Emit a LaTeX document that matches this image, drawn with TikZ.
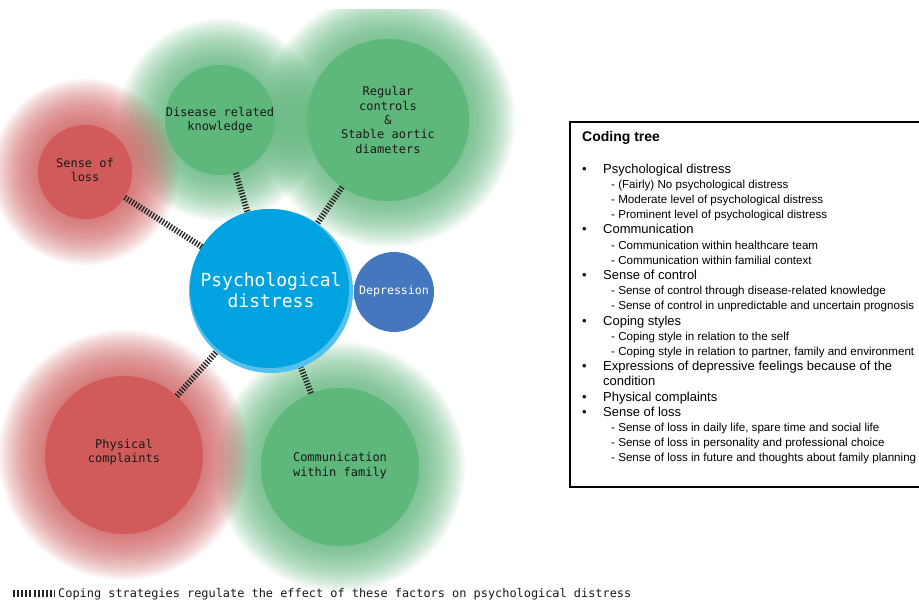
\documentclass[tikz,border=0pt]{standalone}
\usepackage{fontspec}
\setmainfont{Liberation Sans}
\newfontfamily\monof{DejaVu Sans Mono}

\definecolor{redc}{HTML}{D15B5B}
\definecolor{greenc}{HTML}{5EB77B}
\definecolor{psyc}{HTML}{00A3E0}
\definecolor{psyrim}{HTML}{55C2EE}
\definecolor{depc}{HTML}{4577BE}
\definecolor{depedge}{HTML}{8FA9DA}
\definecolor{txt}{HTML}{1A1A1A}

\pgfdeclareradialshading{depshade}{\pgfpointorigin}{color(0bp)=(depc); color(32bp)=(depc); color(50bp)=(depedge)}

\newcommand\itm[1]{\makebox[21pt][l]{\textbullet}#1}
\newcommand\subitm[1]{\hspace*{29pt}{\fontsize{11.6pt}{15.2pt}\selectfont #1}}
% halo: colour, x, y, radius
\newcommand\halo[4]{%
  \foreach \k in {0,...,23}{\pgfmathsetmacro\hr{#4+46-2*\k}\fill[#1, fill opacity=.058] (#2,#3) circle (\hr pt);}}

\begin{document}
\begin{tikzpicture}[x=1pt,y=-1pt,
  circ/.style={circle, inner sep=0pt, draw=none},
  lbl/.style={align=center, text=txt, font=\monof\fontsize{12pt}{14.4pt}\selectfont, inner sep=0pt},
  hatch/.style={draw=black!85, line width=6pt, dash pattern=on 1.4pt off 1.6pt}
]
\useasboundingbox (0,0) rectangle (919,601);
\fill[white] (0,0) rectangle (919,601);

% glows
\begin{scope}
  \clip (0,10) rectangle (919,601);
  \halo{greenc}{388}{120}{81}
  \halo{greenc}{220}{120}{55}
  \halo{greenc}{340}{467}{79}
  \halo{redc}{85}{172}{47}
  \halo{redc}{124}{455}{79}
\end{scope}

% circles
\node[circ, fill=redc, minimum size=94pt] (loss) at (85,172) {};
\node[circ, fill=greenc, minimum size=110pt] (dis) at (220,120) {};
\node[circ, fill=greenc, minimum size=162pt] (reg) at (388,120) {};
\node[circ, fill=redc, minimum size=158pt] (phys) at (124,455) {};
\node[circ, fill=greenc, minimum size=158pt] (comm) at (340,467) {};
\node[circ, fill=psyrim, minimum size=164pt] (psy) at (271,291) {};
\fill[psyc] ([shift={(-1.5,-2.5)}]psy.center) circle (79.5pt);
\node[circ, minimum size=80pt, shade, shading=depshade] (dep) at (394,292) {};

% connectors
\draw[hatch] (loss) -- (psy);
\draw[hatch] (dis) -- (psy);
\draw[hatch] (reg) -- (psy);
\draw[hatch] (phys) -- (psy);
\draw[hatch] (comm) -- (psy);

% circle labels
\node[lbl] (lossT) at (85,170) {Sense of\\loss};
\node[lbl] (disT) at (220,120) {Disease related\\knowledge};
\node[lbl] (regT) at (388,120) {Regular\\controls\\\&\\Stable aortic\\diameters};
\node[lbl] (physT) at (124,452) {Physical\\complaints};
\node[lbl] (commT) at (340,465.5) {Communication\\within family};
\node[lbl, text=white, font=\monof\fontsize{18pt}{20.5pt}\selectfont] (psyT) at (271,290) {Psychological\\distress};
\node[lbl, text=white, font=\monof\fontsize{11.6pt}{14pt}\selectfont] (depT) at (394,291) {Depression};

% footer
\coordinate (hs) at (13,593.5);
\coordinate (he) at (55,593.5);
\draw[draw=black!85, line width=7pt, dash pattern=on 2pt off 2.1pt] (hs) -- (he);
\node[anchor=base west, inner sep=0pt, text=txt, font=\monof\fontsize{11.9pt}{14pt}\selectfont] (foot) at (58,597.5) {Coping strategies regulate the effect of these factors on psychological distress};

% coding tree box
\node[draw=black, line width=1.8pt, minimum width=370pt, minimum height=365pt, anchor=north west, inner sep=0pt] (box) at (569,121) {};
\node[anchor=base west, inner sep=0pt, font=\bfseries\fontsize{14pt}{16pt}\selectfont] (title) at (582,142) {Coding tree};
\node[anchor=north west, inner sep=0pt, align=left, font=\fontsize{13pt}{15.2pt}\selectfont] (list) at (582,163.5) {%
\itm{Psychological distress}\\
\subitm{- (Fairly) No psychological distress}\\
\subitm{- Moderate level of psychological distress}\\
\subitm{- Prominent level of psychological distress}\\
\itm{Communication}\\
\subitm{- Communication within healthcare team}\\
\subitm{- Communication within familial context}\\
\itm{Sense of control}\\
\subitm{- Sense of control through disease-related knowledge}\\
\subitm{- Sense of control in unpredictable and uncertain prognosis}\\
\itm{Coping styles}\\
\subitm{- Coping style in relation to the self}\\
\subitm{- Coping style in relation to partner, family and environment}\\
\itm{Expressions of depressive feelings because of the}\\
\hspace*{21pt}condition\\
\itm{Physical complaints}\\
\itm{Sense of loss}\\
\subitm{- Sense of loss in daily life, spare time and social life}\\
\subitm{- Sense of loss in personality and professional choice}\\
\subitm{- Sense of loss in future and thoughts about family planning}};
\end{tikzpicture}
\end{document}
